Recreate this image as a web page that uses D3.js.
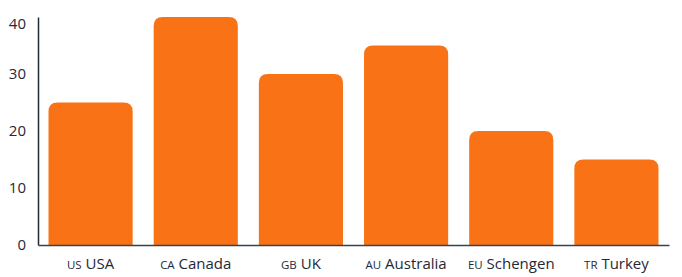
<!DOCTYPE html>
<html lang="en">
<head>
    <meta charset="utf-8">
    <title>Chart</title>
    <script src="https://d3js.org/d3.v7.min.js"></script>
    <style>
        body { margin: 0; background: #fff; }
        .tick text { font-family: "Open Sans", sans-serif; font-size: 15px; fill: #1f2937; }
        .tick text .code { font-size: 11.5px; }
    </style>
</head>
<body>
<div id="container"></div>
<script>
    const w = 682, h = 277;
    const margin = {top: 17, right: 13, bottom: 32, left: 38};

    const codes = ["US", "CA", "GB", "AU", "EU", "TR"];
    const names = ["USA", "Canada", "UK", "Australia", "Schengen", "Turkey"];
    const values = [25, 40, 30, 35, 20, 15];
    const yTicks = [0, 10, 20, 30, 40];

    const svg = d3.select("#container").append("svg").attr("width", w).attr("height", h);

    const x = d3.scaleBand().domain(names).range([margin.left, w - margin.right])
        .paddingInner(0.2).paddingOuter(0.1);
    const y = d3.scaleLinear().domain([0, 40]).range([h - margin.bottom, margin.top]);

    // bars with rounded top corners
    const r = 9;
    svg.selectAll("path.bar")
        .data(values)
        .enter()
        .append("path")
        .attr("class", "bar")
        .attr("fill", "#f97316")
        .attr("d", function (d, i) {
            const x0 = x(names[i]), x1 = x0 + x.bandwidth();
            const y0 = y(0), y1 = y(d);
            return "M" + x0 + "," + y0 + "V" + (y1 + r) + "Q" + x0 + "," + y1 + " " + (x0 + r) + "," + y1 +
                "H" + (x1 - r) + "Q" + x1 + "," + y1 + " " + x1 + "," + (y1 + r) + "V" + y0 + "Z";
        });

    const yAxis = svg.append("g").attr("transform", "translate(" + margin.left + ",0)")
        .call(d3.axisLeft(y).tickValues(yTicks).tickSize(0).tickPadding(12));
    // top label sits a bit lower, inside the chart
    yAxis.selectAll(".tick text").filter(function (d) { return d === 40; }).attr("dy", "0.75em");

    const xAxis = svg.append("g").attr("transform", "translate(0," + y(0) + ")")
        .call(d3.axisBottom(x).tickSize(0));
    xAxis.selectAll(".tick text").each(function (d, i) {
        const t = d3.select(this).text(null).attr("y", 24).attr("dy", 0);
        t.append("tspan").attr("class", "code").text(codes[i]);
        t.append("tspan").text(" " + d);
    });

    yAxis.select(".domain").attr("stroke", "#1f2937").attr("stroke-width", 1.5);
    xAxis.select(".domain").attr("stroke", "#374151").attr("stroke-width", 1.5);
</script>
</body>
</html>
